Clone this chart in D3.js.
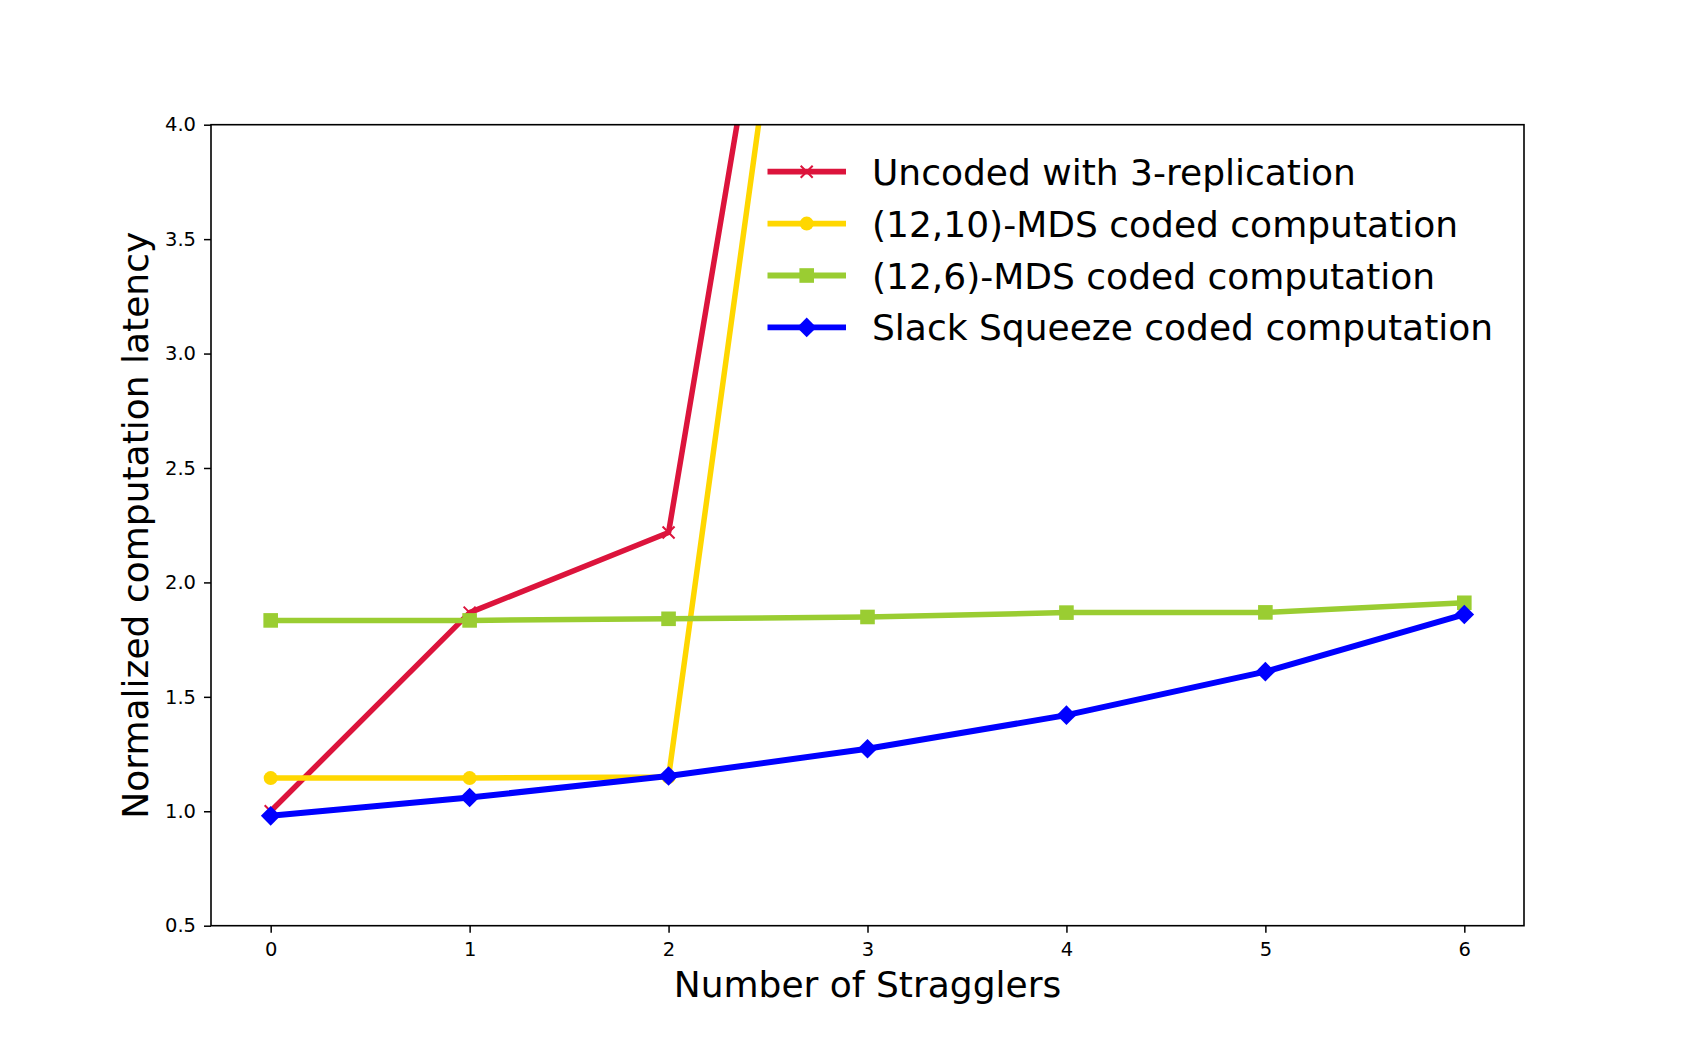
<!DOCTYPE html>
<html>
<head>
<meta charset="utf-8">
<script src="https://cdn.jsdelivr.net/npm/d3@7"></script>
<style>
  html, body { margin: 0; padding: 0; background: #fff; }
  svg { display: block; font-family: "DejaVu Sans", sans-serif; }
</style>
</head>
<body>
<script>
// ---- data ----
const stragglers = [0, 1, 2, 3, 4, 5, 6];
const xTicks = [0, 1, 2, 3, 4, 5, 6];
const yTicks = [0.5, 1.0, 1.5, 2.0, 2.5, 3.0, 3.5, 4.0];
const uncoded = [1.0, 1.868, 2.218, 7.4];
const mds12_10 = [1.145, 1.145, 1.15, 7.45];
const mds12_6 = [1.834, 1.834, 1.841, 1.849, 1.868, 1.869, 1.911];
const slackSqueeze = [0.98, 1.06, 1.154, 1.273, 1.42, 1.61, 1.86];
const seriesNames = [
  "Uncoded with 3-replication",
  "(12,10)-MDS coded computation",
  "(12,6)-MDS coded computation",
  "Slack Squeeze coded computation"
];
const seriesColors = ["#DC143C", "#FFD700", "#9ACD32", "#0000FF"];
const seriesMarkers = ["x", "circle", "square", "diamond"];
const xLabel = "Number of Stragglers";
const yLabel = "Normalized computation latency";

(function () {
// ---- layout ----
const W = 1694, H = 1041;
const pL = 211, pR = 1524, pT = 124.7, pB = 925.7;

const svg = d3.select("body").append("svg").attr("width", W).attr("height", H);

const x = d3.scaleLinear().domain([-0.3, 6.3]).range([pL, pR]);
const y = d3.scaleLinear().domain([0.5, 4.0]).range([pB, pT]);

svg.append("defs").append("clipPath").attr("id", "plotclip")
  .append("rect").attr("x", pL).attr("y", pT)
  .attr("width", pR - pL).attr("height", pB - pT);

const allSeries = [uncoded, mds12_10, mds12_6, slackSqueeze].map((vals, i) => ({
  name: seriesNames[i], color: seriesColors[i], marker: seriesMarkers[i],
  pts: vals.map((v, j) => [stragglers[j], v])
}));

function drawMarker(g, type, color, cx, cy) {
  if (type === "x") {
    const s = 6;
    g.append("path").attr("d", `M${cx - s},${cy - s}L${cx + s},${cy + s}M${cx - s},${cy + s}L${cx + s},${cy - s}`)
      .attr("stroke", color).attr("stroke-width", 2).attr("fill", "none");
  } else if (type === "circle") {
    g.append("circle").attr("cx", cx).attr("cy", cy).attr("r", 7).attr("fill", color);
  } else if (type === "square") {
    g.append("rect").attr("x", cx - 7.3).attr("y", cy - 7.3).attr("width", 14.6).attr("height", 14.6).attr("fill", color);
  } else if (type === "diamond") {
    const s = 9.8;
    g.append("path").attr("d", `M${cx},${cy - s}L${cx + s},${cy}L${cx},${cy + s}L${cx - s},${cy}Z`).attr("fill", color);
  }
}

const plot = svg.append("g").attr("clip-path", "url(#plotclip)");
const line = d3.line().x(d => x(d[0])).y(d => y(d[1]));
allSeries.forEach(s => {
  const g = plot.append("g");
  g.append("path").attr("d", line(s.pts)).attr("fill", "none")
    .attr("stroke", s.color).attr("stroke-width", s.marker === "diamond" ? 6 : 5.5).attr("stroke-linejoin", "round");
  s.pts.forEach(p => drawMarker(g, s.marker, s.color, x(p[0]), y(p[1])));
});

// ---- axes ----
const xAxis = d3.axisBottom(x).tickValues(xTicks).tickFormat(d3.format("d")).tickSize(7).tickPadding(9);
const yAxis = d3.axisLeft(y).tickValues(yTicks).tickFormat(d3.format(".1f")).tickSize(7).tickPadding(8);

const gx = svg.append("g").attr("transform", `translate(0,${pB})`).call(xAxis);
const gy = svg.append("g").attr("transform", `translate(${pL},0)`).call(yAxis);
[gx, gy].forEach(g => {
  g.select(".domain").remove();
  g.selectAll(".tick line").attr("stroke", "#000").attr("stroke-width", 1.5);
  g.selectAll(".tick text").attr("fill", "#000").attr("font-size", 19.5).attr("font-family", "DejaVu Sans");
});

svg.append("rect").attr("x", pL).attr("y", pT).attr("width", pR - pL).attr("height", pB - pT)
  .attr("fill", "none").attr("stroke", "#000").attr("stroke-width", 1.6);

// axis labels
svg.append("text").attr("x", (pL + pR) / 2).attr("y", 997)
  .attr("text-anchor", "middle").attr("font-size", 36).attr("fill", "#000").text(xLabel);
svg.append("text").attr("transform", `translate(148,${(pT + pB) / 2}) rotate(-90)`)
  .attr("text-anchor", "middle").attr("font-size", 36).attr("fill", "#000").text(yLabel);

// ---- legend ----
const legend = svg.append("g");
const rowY = [171.7, 223.6, 275.5, 327.4];
allSeries.forEach((s, i) => {
  const g = legend.append("g");
  g.append("line").attr("x1", 767.5).attr("x2", 846).attr("y1", rowY[i]).attr("y2", rowY[i])
    .attr("stroke", s.color).attr("stroke-width", 5.8);
  drawMarker(g, s.marker, s.color, 806.7, rowY[i]);
  g.append("text").attr("x", 872).attr("y", rowY[i] + 13).attr("font-size", 36).attr("fill", "#000").text(s.name);
});
})();
</script>
</body>
</html>
